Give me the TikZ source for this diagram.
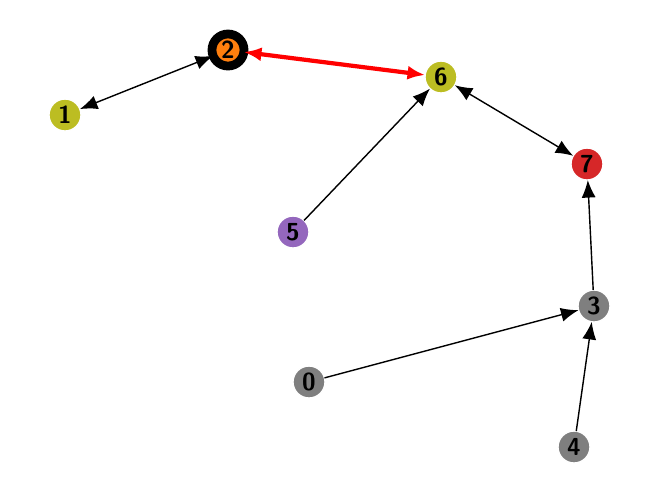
\documentclass[tikz,border=0pt]{standalone}
\usepackage{tikz}
\usetikzlibrary{arrows.meta}
\definecolor{olive}{HTML}{BCBD22}
\definecolor{orng}{HTML}{FF7F0E}
\definecolor{tred}{HTML}{D62728}
\definecolor{purp}{HTML}{9467BD}
\definecolor{grey}{HTML}{7F7F7F}
\begin{document}
\begin{tikzpicture}
    [x=0.01cm, y=-0.01cm, outer sep = 0pt,
    vertex/.style={circle, draw=white, thin, minimum size=0.32cm,
      inner sep=0pt, font=\sffamily\bfseries\scriptsize},
    link/.style={-{Latex[length=5pt,width=4pt]}, black, thin},
    dlink/.style={{Latex[length=5pt,width=4pt]}-{Latex[length=5pt,width=4pt]}, black, thin}]
    \useasboundingbox (0,0) rectangle (660,499);

    \node [vertex, fill=olive] (n1) at (65,115) {1};
    \node [vertex, fill=orng, draw=black, line width=2.5pt] (n2) at (228,50) {2};
    \node [vertex, fill=olive] (n6) at (441,77) {6};
    \node [vertex, fill=tred] (n7) at (587,164) {7};
    \node [vertex, fill=purp] (n5) at (293,232) {5};
    \node [vertex, fill=grey] (n3) at (594,306) {3};
    \node [vertex, fill=grey] (n0) at (309,382) {0};
    \node [vertex, fill=grey] (n4) at (574,447) {4};

    \draw [dlink] (n1) -- (n2);
    \draw [dlink, red, line width=1.2pt] (n2) -- (n6);
    \draw [link] (n5) -- (n6);
    \draw [dlink] (n6) -- (n7);
    \draw [link] (n3) -- (n7);
    \draw [link] (n0) -- (n3);
    \draw [link] (n4) -- (n3);
  \end{tikzpicture}
\end{document}
